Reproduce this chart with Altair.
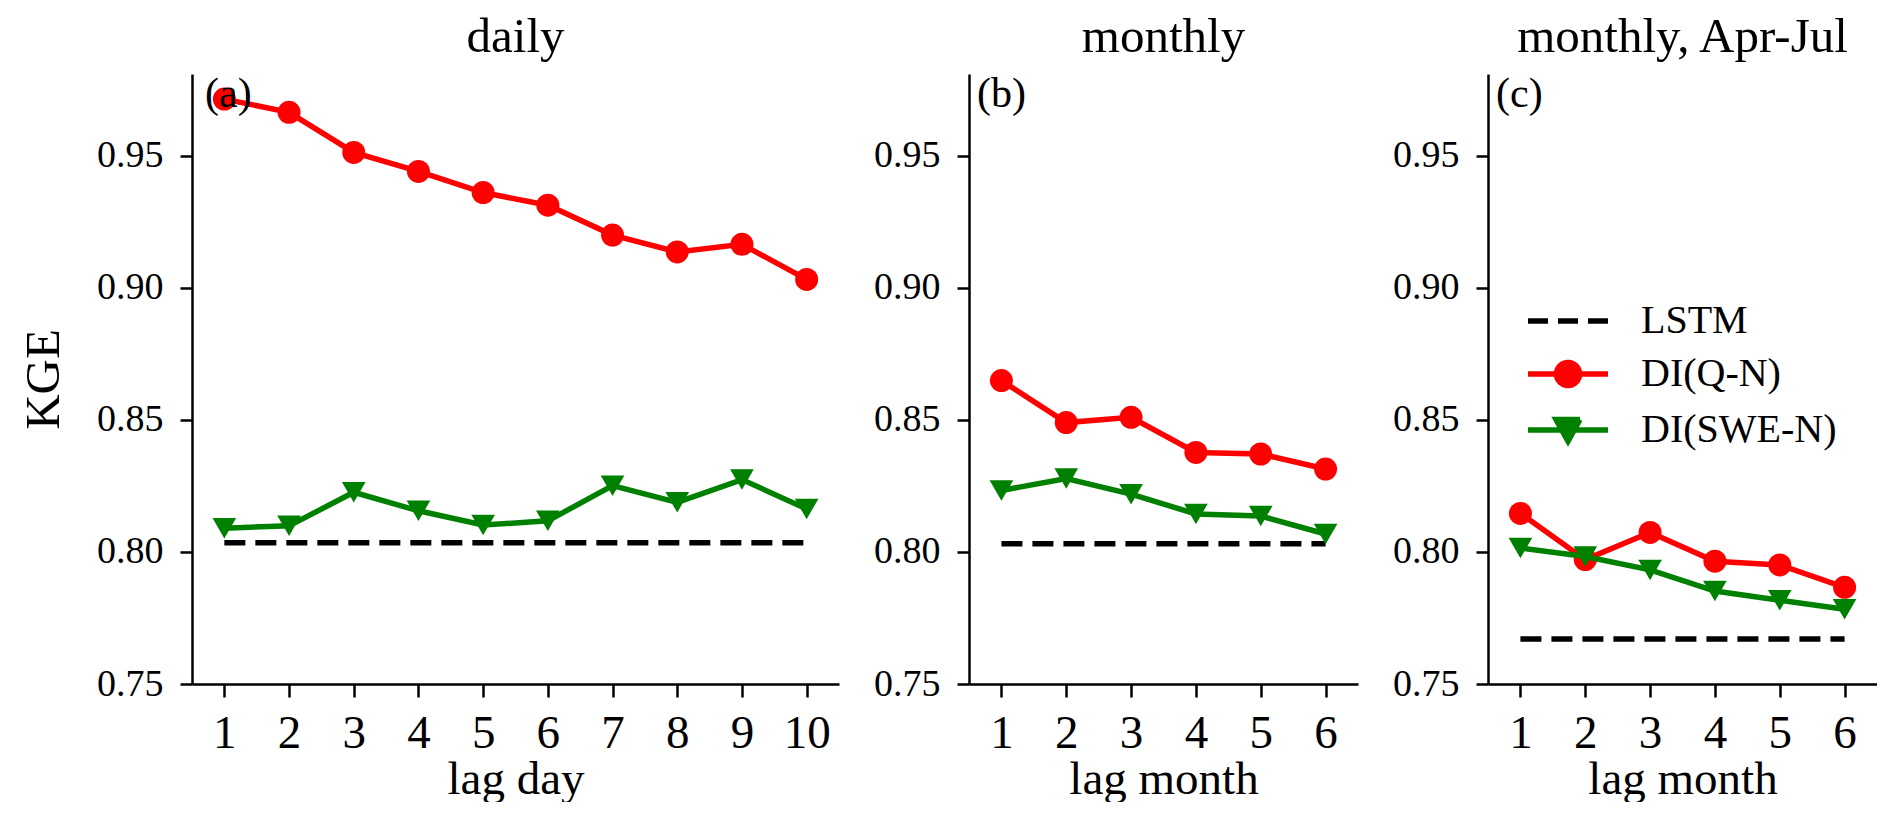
import altair as alt
import pandas as pd

FONT = "Liberation Serif"

# ---- data ----
series_names = ["LSTM", "DI(Q-N)", "DI(SWE-N)"]
series_colors = ["#000000", "#ff0000", "#008000"]
series_fills = ["transparent", "#ff0000", "#008000"]

lag_daily = [1, 2, 3, 4, 5, 6, 7, 8, 9, 10]
qn_daily = [0.9715, 0.9665, 0.9513, 0.9441, 0.9361, 0.9313, 0.9200, 0.9136, 0.9165, 0.9032]
swe_daily = [0.8090, 0.8099, 0.8226, 0.8156, 0.8102, 0.8118, 0.8251, 0.8188, 0.8274, 0.8163]
lstm_daily = 0.8035

lag_month = [1, 2, 3, 4, 5, 6]
qn_month = [0.8649, 0.8490, 0.8510, 0.8377, 0.8371, 0.8314]
swe_month = [0.8233, 0.8278, 0.8219, 0.8144, 0.8136, 0.8068]
lstm_month = 0.8031

lag_aj = [1, 2, 3, 4, 5, 6]
qn_aj = [0.8146, 0.7971, 0.8074, 0.7965, 0.7951, 0.7866]
swe_aj = [0.8015, 0.7983, 0.7932, 0.7852, 0.7817, 0.7783]
lstm_aj = 0.7670

y_ticks = [0.75, 0.80, 0.85, 0.90, 0.95]
y_domain = [0.75, 0.981]

LW = 5.5
# legend glyphs: a line with the series marker on it
legend_shapes = [
    "M-2,0H2",
    "M-2,0H2M0.575,0A0.575,0.575,0,1,1,-0.575,0A0.575,0.575,0,1,1,0.575,0Z",
    "M-2,0H2M-0.6,-0.52L0.6,-0.52L0,0.56Z",
]
legend_dashes = [[20, 10], [1, 0], [1, 0]]


def panel(lags, qn, swe, lstm, title, xtitle, label, width, show_ytitle, show_legend):
    n = len(lags)
    df = pd.DataFrame({
        "lag": lags * 3,
        "kge": [lstm] * n + qn + swe,
        "series": ["LSTM"] * n + ["DI(Q-N)"] * n + ["DI(SWE-N)"] * n,
    })
    base = alt.Chart(df)
    x = alt.X("lag:Q", scale=alt.Scale(domain=[0.5, max(lags) + 0.5], nice=False, zero=False),
              axis=alt.Axis(values=lags, title=xtitle, format="d"))
    y = alt.Y("kge:Q", scale=alt.Scale(domain=y_domain, nice=False, zero=False),
              axis=alt.Axis(values=y_ticks, format=".2f", title="KGE" if show_ytitle else None))

    lstm_line = base.transform_filter(alt.datum.series == "LSTM").mark_line(
        strokeWidth=LW, strokeDash=[21, 10], color="#000000").encode(x=x, y=y)
    qn_line = base.transform_filter(alt.datum.series == "DI(Q-N)").mark_line(
        strokeWidth=LW, color="#ff0000").encode(x=x, y=y)
    qn_pts = base.transform_filter(alt.datum.series == "DI(Q-N)").mark_point(
        shape="circle", filled=True, size=529, opacity=1, color="#ff0000", strokeWidth=0).encode(x=x, y=y)
    swe_line = base.transform_filter(alt.datum.series == "DI(SWE-N)").mark_line(
        strokeWidth=LW, color="#008000").encode(x=x, y=y)
    swe_pts = base.transform_filter(alt.datum.series == "DI(SWE-N)").mark_point(
        shape="triangle-down", filled=True, size=560, opacity=1, color="#008000", strokeWidth=0).encode(x=x, y=y)
    txt = alt.Chart(pd.DataFrame({"t": [label]})).mark_text(
        align="left", baseline="top", fontSize=42, font=FONT, color="black").encode(
        text="t:N", x=alt.value(round(width * 0.02)), y=alt.value(0))

    layers = [lstm_line, qn_line, qn_pts, swe_line, swe_pts, txt]

    if show_legend:
        leg = alt.Legend(
            title=None, orient="none", legendX=57, legendY=224, padding=0,
            symbolSize=1600, symbolStrokeWidth=LW, labelOffset=50, rowPadding=10,
            labelFont=FONT, labelFontSize=40, labelColor="black", symbolOpacity=1,
            labelLimit=400,
        )
        legend_layer = base.transform_filter("false").mark_point(
            filled=True, size=1600, opacity=1, strokeWidth=LW).encode(
            x=x, y=y,
            stroke=alt.Stroke("series:N", scale=alt.Scale(domain=series_names, range=series_colors), legend=leg),
            fill=alt.Fill("series:N", scale=alt.Scale(domain=series_names, range=series_fills), legend=leg),
            shape=alt.Shape("series:N", scale=alt.Scale(domain=series_names, range=legend_shapes), legend=leg),
            strokeDash=alt.StrokeDash("series:N", scale=alt.Scale(domain=series_names, range=legend_dashes), legend=leg),
        )
        layers.append(legend_layer)

    return alt.layer(*layers).properties(
        width=width, height=610,
        title=alt.TitleParams(title, font=FONT, fontSize=49, fontWeight="normal", color="black",
                              offset=11, anchor="middle"))


pa = panel(lag_daily, qn_daily, swe_daily, lstm_daily, "daily", "lag day", "(a)", 647, True, False)
pb = panel(lag_month, qn_month, swe_month, lstm_month, "monthly", "lag month", "(b)", 389, False, False)
pc = panel(lag_aj, qn_aj, swe_aj, lstm_aj, "monthly, Apr-Jul", "lag month", "(c)", 389, False, True)

chart = alt.hconcat(pa, pb, pc, spacing=34).resolve_scale(
    fill="independent", stroke="independent", shape="independent", strokeDash="independent"
).properties(
    padding={"left": 11, "top": 5, "right": 0, "bottom": 0}
).configure_view(stroke=None).configure_axis(
    labelFont=FONT, titleFont=FONT, labelColor="black", titleColor="black",
    domainColor="black", tickColor="black", domainWidth=2.5, tickWidth=2.5,
    grid=False, titleFontWeight="normal",
).configure_axisX(
    labelFontSize=47, titleFontSize=47, labelPadding=13, titlePadding=0, tickSize=13, labelAngle=0,
).configure_axisY(
    labelFontSize=38, titleFontSize=49, labelPadding=17, titlePadding=28, tickSize=12,
)

chart.save("out.html", embed_options={"renderer": "svg", "actions": False})
